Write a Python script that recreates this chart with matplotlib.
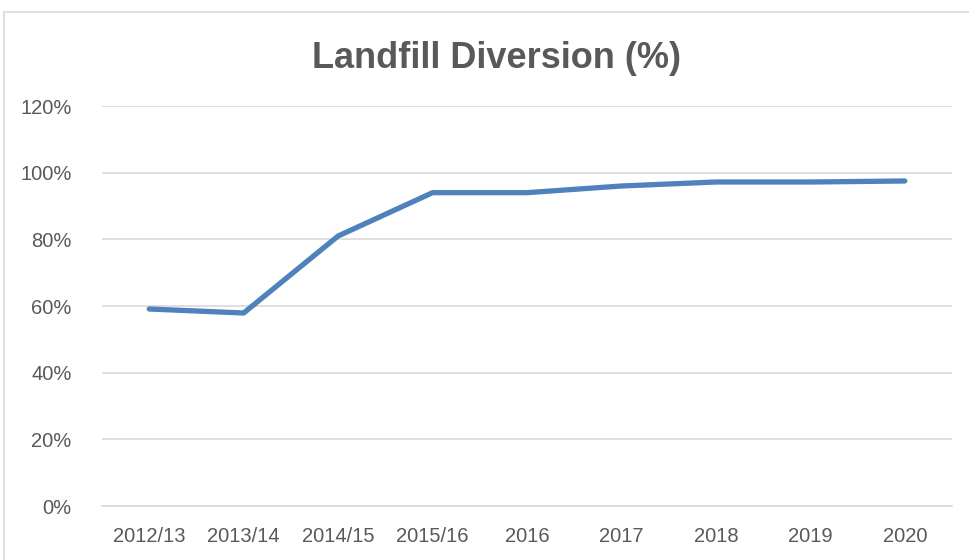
import matplotlib.pyplot as plt
from matplotlib.patches import Rectangle
from matplotlib.ticker import PercentFormatter

years = ['2012/13', '2013/14', '2014/15', '2015/16', '2016', '2017', '2018', '2019', '2020']
diversion = [59.1, 57.9, 81.0, 94.0, 94.0, 96.0, 97.2, 97.2, 97.5]

plt.rcParams['font.family'] = ['Liberation Sans', 'DejaVu Sans']
text_color = '#595959'

fig = plt.figure(figsize=(9.7, 5.6), dpi=100)
ax = fig.add_axes([102 / 970, 1 - 506 / 560, 850 / 970, 400 / 560])

# chart border (cropped at right and bottom like the screenshot)
fig.patches.append(Rectangle((4 / 970, -0.1), 1.2, 1 - 12 / 560 + 0.1,
                             transform=fig.transFigure, fill=False,
                             edgecolor='#D9D9D9', linewidth=1.2))

x = list(range(len(years)))
ax.plot(x, diversion, color='#4F81BD', linewidth=3.8,
        solid_capstyle='round', solid_joinstyle='round', zorder=3)

ax.set_xlim(-0.5, len(years) - 0.5)
ax.set_ylim(0, 120)
ax.set_yticks(range(0, 121, 20))
ax.yaxis.set_major_formatter(PercentFormatter(decimals=0))
ax.set_xticks(x)
ax.set_xticklabels(years)

ax.grid(axis='y', color='#D9D9D9', linewidth=1.2)
ax.set_axisbelow(True)
for side in ['top', 'right', 'left']:
    ax.spines[side].set_visible(False)
ax.spines['bottom'].set_color('#D9D9D9')
ax.spines['bottom'].set_linewidth(1.2)
ax.tick_params(length=0, labelsize=14.5, labelcolor=text_color)
ax.tick_params(axis='x', pad=15)
ax.tick_params(axis='y', pad=22)

fig.text(497 / 970, 1 - 59 / 560, 'Landfill Diversion (%)', ha='center', va='center',
         fontsize=26, fontweight='bold', color=text_color)

fig.savefig('out.png', dpi=100)
